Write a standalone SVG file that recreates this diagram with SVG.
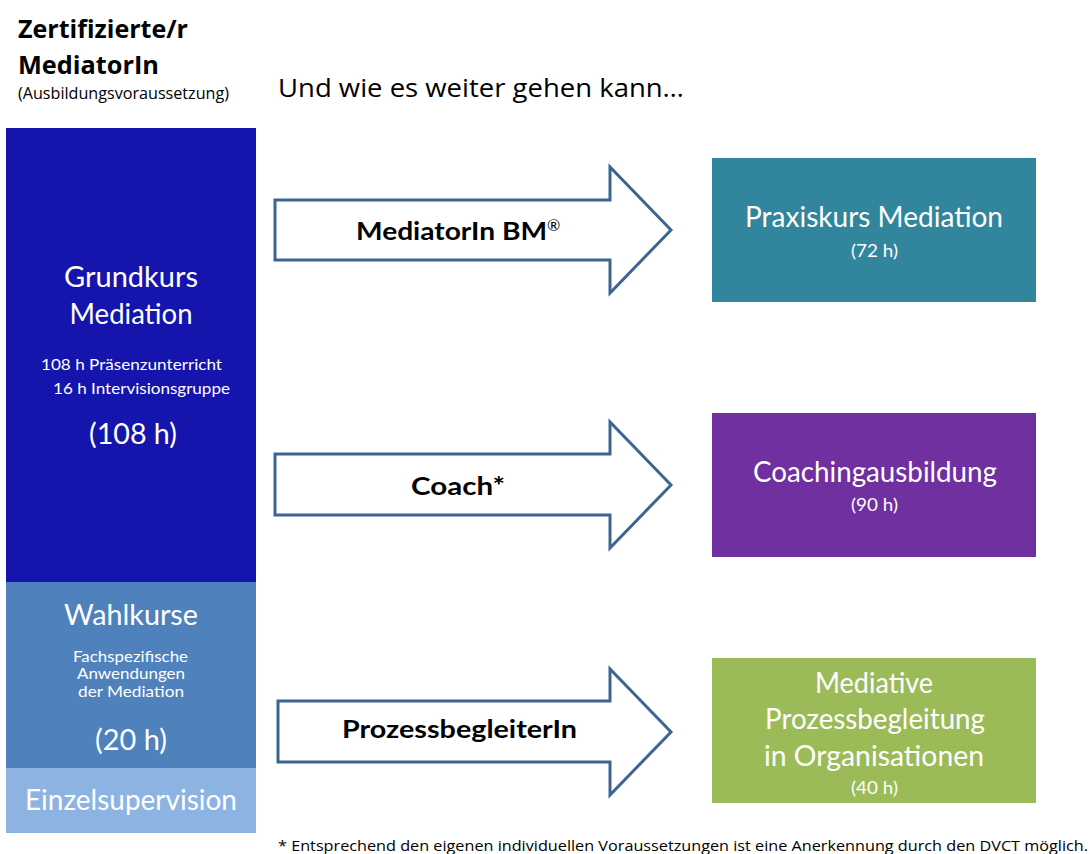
<svg xmlns="http://www.w3.org/2000/svg" width="1090" height="854" viewBox="0 0 1090 854">
<style>
.w{fill:#fff;font-family:Lato,"Open Sans","DejaVu Sans",sans-serif;text-anchor:middle}
.big{font-size:28px}
.sm{font-size:16px}
.arr{fill:#fff;stroke:#3D6594;stroke-width:3;stroke-linejoin:miter}
.al{font-family:Lato,"DejaVu Sans",sans-serif;font-weight:bold;font-size:24px;fill:#000}
.c{font-family:"Open Sans","Liberation Sans",sans-serif;fill:#000}
</style>
<rect width="1090" height="854" fill="#fff"/>
<g id="header">
<text class="c" x="18" y="38" font-size="24.5" font-weight="bold" textLength="170" lengthAdjust="spacingAndGlyphs">Zertifizierte/r</text>
<text class="c" x="18" y="74" font-size="24.5" font-weight="bold" textLength="141" lengthAdjust="spacingAndGlyphs">MediatorIn</text>
<text class="c" x="18" y="99" font-size="15.5" textLength="211" lengthAdjust="spacingAndGlyphs">(Ausbildungsvoraussetzung)</text>
<text class="c" x="278" y="97" font-size="26" textLength="406" lengthAdjust="spacingAndGlyphs">Und wie es weiter gehen kann…</text>
</g>
<g id="grundkurs">
<rect x="6" y="128" width="250" height="454" fill="#1515AE"/>
<text class="w big" x="131" y="287" textLength="134" lengthAdjust="spacingAndGlyphs">Grundkurs</text>
<text class="w big" x="131" y="324" textLength="123" lengthAdjust="spacingAndGlyphs">Mediation</text>
<text class="w sm" x="131.5" y="370" textLength="181" lengthAdjust="spacingAndGlyphs">108 h Präsenzunterricht</text>
<text class="w sm" x="141.5" y="394" textLength="177" lengthAdjust="spacingAndGlyphs">16 h Intervisionsgruppe</text>
<text class="w big" x="133" y="444" textLength="88" lengthAdjust="spacingAndGlyphs">(108 h)</text>
</g>
<g id="wahlkurse">
<rect x="6" y="582" width="250" height="186" fill="#4F81BD"/>
<text class="w big" x="131" y="625" textLength="134" lengthAdjust="spacingAndGlyphs">Wahlkurse</text>
<text class="w sm" x="130.5" y="662" textLength="115" lengthAdjust="spacingAndGlyphs">Fachspezifische</text>
<text class="w sm" x="131" y="679" textLength="108" lengthAdjust="spacingAndGlyphs">Anwendungen</text>
<text class="w sm" x="131" y="697" textLength="106" lengthAdjust="spacingAndGlyphs">der Mediation</text>
<text class="w big" x="131" y="750" textLength="72" lengthAdjust="spacingAndGlyphs">(20 h)</text>
</g>
<g id="einzelsupervision">
<rect x="6" y="768" width="250" height="65" fill="#8DB3E2"/>
<text class="w big" x="131" y="810" textLength="212" lengthAdjust="spacingAndGlyphs">Einzelsupervision</text>
</g>
<g id="connectors">
<polygon class="arr" points="275,200 610,200 610,167 671,230 610,293 610,260 275,260"/>
<polygon class="arr" points="275,454 610,454 610,422 671,485 610,548 610,515 275,515"/>
<polygon class="arr" points="278,701 610,701 610,669 671,732 610,795 610,762 278,762"/>
<text class="al" x="356" y="240"><tspan textLength="191" lengthAdjust="spacingAndGlyphs">MediatorIn BM</tspan><tspan font-size="16" font-weight="normal" dy="-9">®</tspan></text>
<text class="al" x="411" y="495" textLength="94" lengthAdjust="spacingAndGlyphs">Coach*</text>
<text class="al" x="342" y="738" textLength="235" lengthAdjust="spacingAndGlyphs">ProzessbegleiterIn</text>
</g>
<g id="praxiskurs">
<rect x="712" y="158" width="324" height="144" fill="#31859C"/>
<text class="w big" x="874" y="227" textLength="258" lengthAdjust="spacingAndGlyphs">Praxiskurs Mediation</text>
<text class="w" x="874.5" y="257" font-size="17" textLength="47" lengthAdjust="spacingAndGlyphs">(72 h)</text>
</g>
<g id="coaching">
<rect x="712" y="413" width="324" height="144" fill="#7030A0"/>
<text class="w big" x="875" y="482" textLength="244" lengthAdjust="spacingAndGlyphs">Coachingausbildung</text>
<text class="w" x="874.5" y="511" font-size="17" textLength="47" lengthAdjust="spacingAndGlyphs">(90 h)</text>
</g>
<g id="prozessbegleitung">
<rect x="712" y="658" width="324" height="145" fill="#9BBB59"/>
<text class="w big" x="874" y="693" textLength="118" lengthAdjust="spacingAndGlyphs">Mediative</text>
<text class="w big" x="875" y="729" textLength="220" lengthAdjust="spacingAndGlyphs">Prozessbegleitung</text>
<text class="w big" x="874" y="766" textLength="220" lengthAdjust="spacingAndGlyphs">in Organisationen</text>
<text class="w" x="874.5" y="794" font-size="17" textLength="47" lengthAdjust="spacingAndGlyphs">(40 h)</text>
</g>
<g id="footnote">
<text class="c" x="278" y="851" font-size="15" textLength="810" lengthAdjust="spacingAndGlyphs">* Entsprechend den eigenen individuellen Voraussetzungen ist eine Anerkennung durch den DVCT möglich.</text>
</g>
</svg>
